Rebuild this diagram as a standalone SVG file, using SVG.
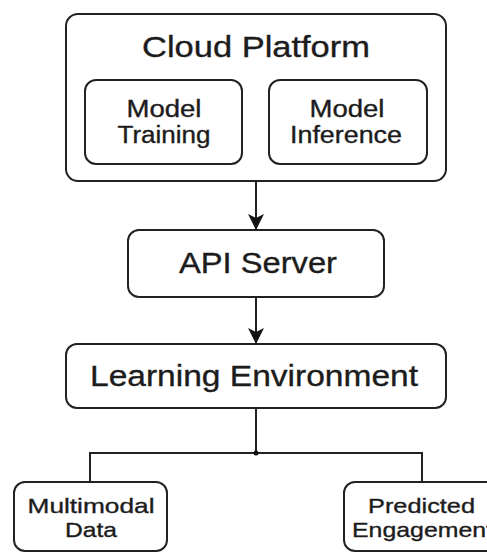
<svg xmlns="http://www.w3.org/2000/svg" width="487" height="553" viewBox="0 0 487 553">
<style>
.box{fill:#fff;stroke:#222;stroke-width:2}
.t{font-family:"Liberation Sans",Arial,sans-serif;fill:#1c1c1c;stroke:#1c1c1c;stroke-width:0.35;text-anchor:middle}
.big{font-size:29px}
.mid{font-size:23px}
.sm{font-size:21px}
.ln{fill:none;stroke:#222;stroke-width:2}
</style>
<defs>
<marker id="ah" markerWidth="17" markerHeight="16" refX="15" refY="8" orient="auto" markerUnits="userSpaceOnUse">
<path d="M0,0 L16,8 L0,16 L4,8 Z" fill="#111"/>
</marker>
</defs>
<rect width="487" height="553" fill="#fff"/>
<g id="connectors">
<line class="ln" x1="256" y1="181" x2="256" y2="229" marker-end="url(#ah)"/>
<line class="ln" x1="256" y1="297" x2="256" y2="343" marker-end="url(#ah)"/>
<polyline class="ln" points="256,408 256,453"/>
<polyline class="ln" points="90,482 90,453 422,453 422,482"/>
<circle cx="256" cy="453" r="2.5" fill="#111"/>
</g>
<g id="cloud-platform">
<rect class="box" x="66" y="14" width="380" height="167" rx="12"/>
<text class="t big" x="256" y="57" textLength="228" lengthAdjust="spacingAndGlyphs">Cloud Platform</text>
</g>
<g id="model-training">
<rect class="box" x="85" y="80" width="157" height="84" rx="11"/>
<text class="t mid" x="164" y="117" textLength="75" lengthAdjust="spacingAndGlyphs">Model</text>
<text class="t mid" x="164" y="143" textLength="93" lengthAdjust="spacingAndGlyphs">Training</text>
</g>
<g id="model-inference">
<rect class="box" x="269" y="80" width="158" height="84" rx="11"/>
<text class="t mid" x="347" y="117" textLength="75" lengthAdjust="spacingAndGlyphs">Model</text>
<text class="t mid" x="346" y="143" textLength="112" lengthAdjust="spacingAndGlyphs">Inference</text>
</g>
<g id="api-server">
<rect class="box" x="128" y="230" width="256" height="67" rx="11"/>
<text class="t big" x="258" y="273" textLength="158" lengthAdjust="spacingAndGlyphs">API Server</text>
</g>
<g id="learning-environment">
<rect class="box" x="66" y="344" width="380" height="64" rx="11"/>
<text class="t big" x="254" y="386" textLength="328" lengthAdjust="spacingAndGlyphs">Learning Environment</text>
</g>
<g id="multimodal-data">
<rect class="box" x="14" y="482" width="153" height="69" rx="11"/>
<text class="t sm" x="91" y="513" textLength="127" lengthAdjust="spacingAndGlyphs">Multimodal</text>
<text class="t sm" x="91" y="537" textLength="52" lengthAdjust="spacingAndGlyphs">Data</text>
</g>
<g id="predicted-engagement">
<rect class="box" x="344" y="482" width="165" height="69" rx="11"/>
<text class="t sm" x="421.5" y="513" textLength="107" lengthAdjust="spacingAndGlyphs">Predicted</text>
<text class="t sm" x="422.5" y="537" textLength="141" lengthAdjust="spacingAndGlyphs">Engagement</text>
</g>
</svg>
